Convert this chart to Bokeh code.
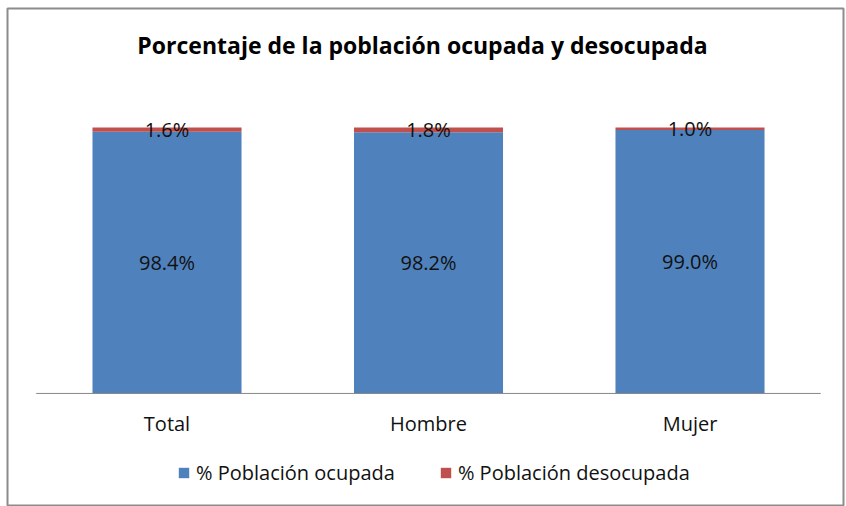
from bokeh.plotting import figure
from bokeh.models import (ColumnDataSource, Range1d, Legend, LegendItem, LabelSet, Label)
from bokeh.core.properties import value
from bokeh.embed import file_html
from bokeh.resources import INLINE

categories = ["Total", "Hombre", "Mujer"]
ocupada = [98.4, 98.2, 99.0]
desocupada = [1.6, 1.8, 1.0]
series_names = ["% Población ocupada", "% Población desocupada"]
colors = ["#4F81BD", "#C0504D"]
title_text = "Porcentaje de la población  ocupada  y desocupada"

n = len(categories)
xs = [i + 0.5 for i in range(n)]
source = ColumnDataSource(dict(
    x=xs,
    cat=categories,
    ocupada=ocupada,
    desocupada=desocupada,
    y_ocu=[v / 2 for v in ocupada],
    y_des=[o + d / 2 for o, d in zip(ocupada, desocupada)],
    y_cat=[-11.3] * n,
    lab_ocu=[f"{v:.1f}%" for v in ocupada],
    lab_des=[f"{v:.1f}%" for v in desocupada],
))

p = figure(width=846, height=506, x_range=Range1d(-0.110, 3.087),
           y_range=Range1d(-42.5, 144.7), output_backend="svg", toolbar_location=None,
           x_axis_location=None, y_axis_location=None,
           min_border_left=7, min_border_top=8, min_border_right=3, min_border_bottom=0)
p.outline_line_color = "#8c8c8c"
p.outline_line_width = 2
p.xgrid.visible = False
p.ygrid.visible = False

rs = p.vbar_stack(["ocupada", "desocupada"], x="x", width=0.57, color=colors,
                  line_color=None, source=source)

# category axis line
p.segment(x0=[0], x1=[n], y0=[0], y1=[0], line_color="#868686", line_width=1)

font = value("Open Sans")
for col_y, col_t in (("y_ocu", "lab_ocu"), ("y_des", "lab_des")):
    p.add_layout(LabelSet(x="x", y=col_y, text=col_t, source=source, text_align="center",
                          text_baseline="middle", text_font=font, text_font_size=value("20px"),
                          text_color="#111111"))

p.add_layout(LabelSet(x="x", y="y_cat", text="cat", source=source, text_align="center",
                      text_baseline="middle", text_font=font, text_font_size=value("20px"),
                      text_color="#111111"))

p.add_layout(Label(x=n / 2, y=130.8, text=title_text, text_align="center",
                   text_baseline="middle", text_font="Open Sans", text_font_style="bold",
                   text_font_size="23px", text_color="#000000"))

legend = Legend(items=[LegendItem(label=series_names[0], renderers=[rs[0]]),
                       LegendItem(label=series_names[1], renderers=[rs[1]])],
                orientation="horizontal", location=(170, 20),
                label_text_font="Open Sans", label_text_font_size="20px", label_text_color="#111111",
                glyph_width=13, glyph_height=13, spacing=44, label_standoff=6,
                border_line_color=None, background_fill_alpha=0, margin=0, padding=0)
p.add_layout(legend)

open("out.html", "w").write(file_html(p, INLINE))
